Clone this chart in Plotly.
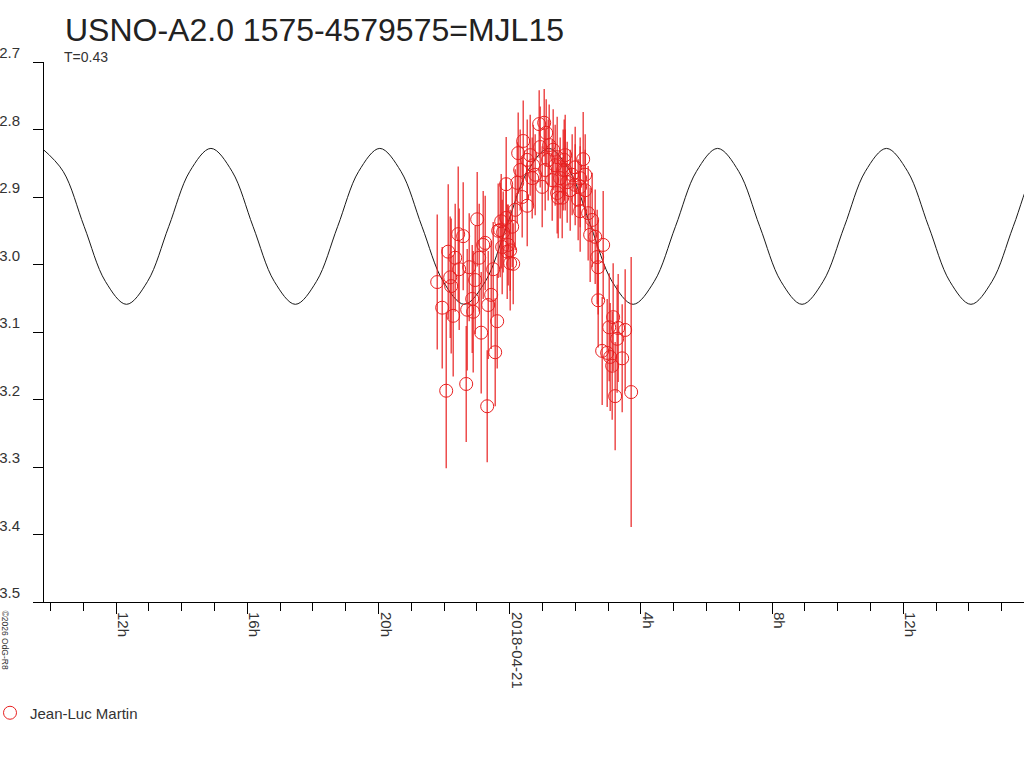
import pandas as pd
import plotly.graph_objects as go

# Light curve of USNO-A2.0 1575-4579575 (MJL15), observer Jean-Luc Martin
# times are hours relative to 2018-04-21 00:00
BASE = pd.Timestamp("2018-04-21 00:00")

obs_hours = [
    -2.210, -2.058, -1.936, -1.875, -1.814, -1.784, -1.723, -1.662, -1.570, -1.540,
    -1.418, -1.326, -1.296, -1.235, -1.143, -1.113, -1.052, -0.991, -0.930, -0.869,
    -0.808, -0.747, -0.686, -0.655, -0.564, -0.503, -0.442, -0.381, -0.351, -0.290,
    -0.259, -0.229, -0.198, -0.107, -0.107, -0.076, -0.046, 0.015, 0.015, 0.076,
    0.107, 0.229, 0.259, 0.381, 0.412, 0.534, 0.534, 0.686, 0.716, 0.899,
    0.930, 0.991, 1.052, 1.082, 1.113, 1.204, 1.296, 1.387, 1.448, 1.448,
    1.479, 1.540, 1.662, 1.692, 1.753, 1.692, 1.631, 1.905, 1.997, 2.149,
    2.149, 2.241, 1.601, 2.149, 2.393, 2.515, 2.454, 2.607, 2.851, 2.668,
    2.698, 2.698, 3.155, 3.034, 3.308, 3.521, 3.277, 2.820, 2.973, 3.064,
    3.430, 3.125, 3.216, 3.704, 0.625, 0.777, 1.174, 1.326, 1.845, 1.997,
    2.302, 2.088, 0.320, 0.168, 2.302,
]
obs_mag = [
    3.026, 3.064, 3.187, 2.981, 3.019, 3.032, 3.076, 2.990, 2.955, 3.007,
    2.958, 3.177, 3.067, 3.004, 3.051, 3.070, 3.023, 2.933, 2.990, 3.101,
    2.971, 2.968, 3.210, 3.060, 3.045, 3.007, 3.130, 3.084, 2.950, 2.949,
    2.936, 2.974, 2.952, 2.881, 2.931, 2.981, 2.971, 2.998, 2.979, 2.944,
    2.999, 2.879, 2.835, 2.900, 2.817, 2.845, 2.913, 2.872, 2.853, 2.792,
    2.826, 2.885, 2.790, 2.860, 2.805, 2.823, 2.875, 2.853, 2.841, 2.894,
    2.901, 2.872, 2.845, 2.860, 2.878, 2.838, 2.860, 2.867, 2.856, 2.872,
    2.885, 2.844, 2.901, 2.921, 2.924, 2.934, 2.956, 2.959, 2.971, 2.989,
    3.004, 3.053, 3.078, 3.093, 3.094, 3.097, 3.110, 3.128, 3.131, 3.137,
    3.139, 3.150, 3.195, 3.189, 2.838, 2.867, 2.845, 2.830, 2.890, 2.882,
    2.867, 2.904, 2.860, 2.919, 2.890,
]
obs_err = [
    0.100, 0.090, 0.115, 0.100, 0.090, 0.100, 0.090, 0.080, 0.100, 0.090,
    0.080, 0.086, 0.090, 0.080, 0.080, 0.090, 0.080, 0.070, 0.080, 0.090,
    0.080, 0.070, 0.083, 0.080, 0.080, 0.070, 0.080, 0.070, 0.070, 0.070,
    0.070, 0.070, 0.060, 0.070, 0.060, 0.070, 0.060, 0.070, 0.060, 0.060,
    0.060, 0.060, 0.060, 0.060, 0.060, 0.060, 0.060, 0.060, 0.060, 0.050,
    0.060, 0.060, 0.050, 0.060, 0.050, 0.060, 0.060, 0.060, 0.060, 0.060,
    0.060, 0.060, 0.060, 0.060, 0.060, 0.060, 0.060, 0.060, 0.060, 0.060,
    0.060, 0.070, 0.060, 0.060, 0.070, 0.070, 0.070, 0.070, 0.080, 0.070,
    0.070, 0.070, 0.080, 0.080, 0.080, 0.090, 0.080, 0.080, 0.080, 0.080,
    0.080, 0.080, 0.080, 0.200, 0.060, 0.060, 0.060, 0.060, 0.060, 0.060,
    0.060, 0.060, 0.060, 0.060, 0.060,
]

# fitted periodic curve (max / min and quarter points)
fit_hours = [
    -14.260, -13.616, -12.973, -12.329, -11.685, -11.041, -10.398, -9.754,
    -9.110, -8.466, -7.823, -7.179, -6.535, -5.891, -5.248, -4.604,
    -3.960, -3.316, -2.673, -2.029, -1.385, -0.741, -0.098, 0.546,
    1.190, 1.834, 2.478, 3.121, 3.765, 4.409, 5.053, 5.696,
    6.340, 6.984, 7.628, 8.271, 8.915, 9.559, 10.203, 10.846,
    11.490, 12.134, 12.778, 13.421, 14.065, 14.709, 15.353, 15.996,
    16.640,
]
fit_mag = [
    2.828, 2.862, 2.944, 3.025, 3.059, 3.025, 2.944, 2.862,
    2.828, 2.862, 2.944, 3.025, 3.059, 3.025, 2.944, 2.862,
    2.828, 2.862, 2.944, 3.025, 3.059, 3.025, 2.944, 2.862,
    2.828, 2.862, 2.944, 3.025, 3.059, 3.025, 2.944, 2.862,
    2.828, 2.862, 2.944, 3.025, 3.059, 3.025, 2.944, 2.862,
    2.828, 2.862, 2.944, 3.025, 3.059, 3.025, 2.944, 2.862,
    2.828,
]

x_tick_dates = ["2018-04-20 12:00", "2018-04-20 16:00", "2018-04-20 20:00",
                "2018-04-21 00:00", "2018-04-21 04:00", "2018-04-21 08:00",
                "2018-04-21 12:00"]
x_tick_text = ["12h", "16h", "20h", "2018-04-21", "4h", "8h", "12h"]
y_ticks = [2.7, 2.8, 2.9, 3.0, 3.1, 3.2, 3.3, 3.4, 3.5]

obs_time = BASE + pd.to_timedelta(obs_hours, unit="h")
fit_time = BASE + pd.to_timedelta(fit_hours, unit="h")

RED = "#e82020"
FONT = "Liberation Sans, Arial, sans-serif"

fig = go.Figure()

fig.add_trace(go.Scatter(
    x=fit_time, y=fit_mag,
    mode="lines",
    line=dict(color="#1a1a1a", width=1, shape="spline", smoothing=1.0),
    showlegend=False,
    hoverinfo="skip",
))

fig.add_trace(go.Scatter(
    x=obs_time, y=obs_mag,
    mode="markers",
    name="Jean-Luc Martin",
    marker=dict(symbol="circle-open", size=13, color=RED, line=dict(width=1, color=RED)),
    error_y=dict(type="data", array=obs_err, color=RED, thickness=1.2, width=0),
))

fig.update_layout(
    width=1024, height=768,
    margin=dict(l=44, r=0, t=62, b=166, autoexpand=False),
    paper_bgcolor="white",
    plot_bgcolor="white",
    font=dict(family=FONT, color="#333333", size=15),
    title=dict(
        text="USNO-A2.0 1575-4579575=MJL15",
        font=dict(size=32, color="#222222", family=FONT),
        xref="container", yref="container",
        x=65 / 1024, xanchor="left",
        y=1 - 30 / 768, yanchor="middle",
    ),
    showlegend=True,
    legend=dict(
        xref="container", yref="container",
        x=0, y=1 - 713 / 768, yanchor="middle", xanchor="left",
        font=dict(size=15, color="#333333"),
        itemwidth=30, indentation=-10,
        bgcolor="rgba(0,0,0,0)",
    ),
)

fig.update_xaxes(
    type="date",
    range=["2018-04-20 09:48", "2018-04-21 15:41"],
    tickmode="array", tickvals=x_tick_dates, ticktext=x_tick_text,
    tickangle=90, ticklabelshift=7, ticklabelstandoff=-5,
    ticks="outside", ticklen=11, tickcolor="black", tickwidth=1,
    minor=dict(ticks="outside", ticklen=8, tickcolor="black",
               dtick=3600000, tick0="2018-04-21 00:00", showgrid=False),
    showline=True, linecolor="black", linewidth=1,
    showgrid=False, zeroline=False, automargin=False,
    tickfont=dict(size=15, color="#333333"),
)

fig.update_yaxes(
    range=[3.5, 2.7],
    tickmode="array", tickvals=y_ticks, tickformat=".1f",
    ticks="outside", ticklen=10, tickcolor="black", tickwidth=1,
    ticklabelshift=9, ticklabelstandoff=10,
    showline=True, linecolor="black", linewidth=1,
    showgrid=False, zeroline=False, automargin=False,
    tickfont=dict(size=15, color="#333333"),
)

fig.add_annotation(
    text="T=0.43", xref="paper", yref="paper",
    x=(62 - 44) / 980, y=1 + 5 / 540, xanchor="left", yanchor="middle",
    showarrow=False, font=dict(size=14, color="#333333"),
)

fig.add_annotation(
    text="©2026 OdG-R8", xref="paper", yref="paper",
    x=-39 / 980, y=-6 / 540, xanchor="center", yanchor="top",
    textangle=90, showarrow=False, font=dict(size=8.5, color="#333333"),
)

# drop the default 8px page margin so the figure sits at the window corner
fig.write_html("out.html", config={"displayModeBar": False},
               post_script="document.body.style.margin='0';")
